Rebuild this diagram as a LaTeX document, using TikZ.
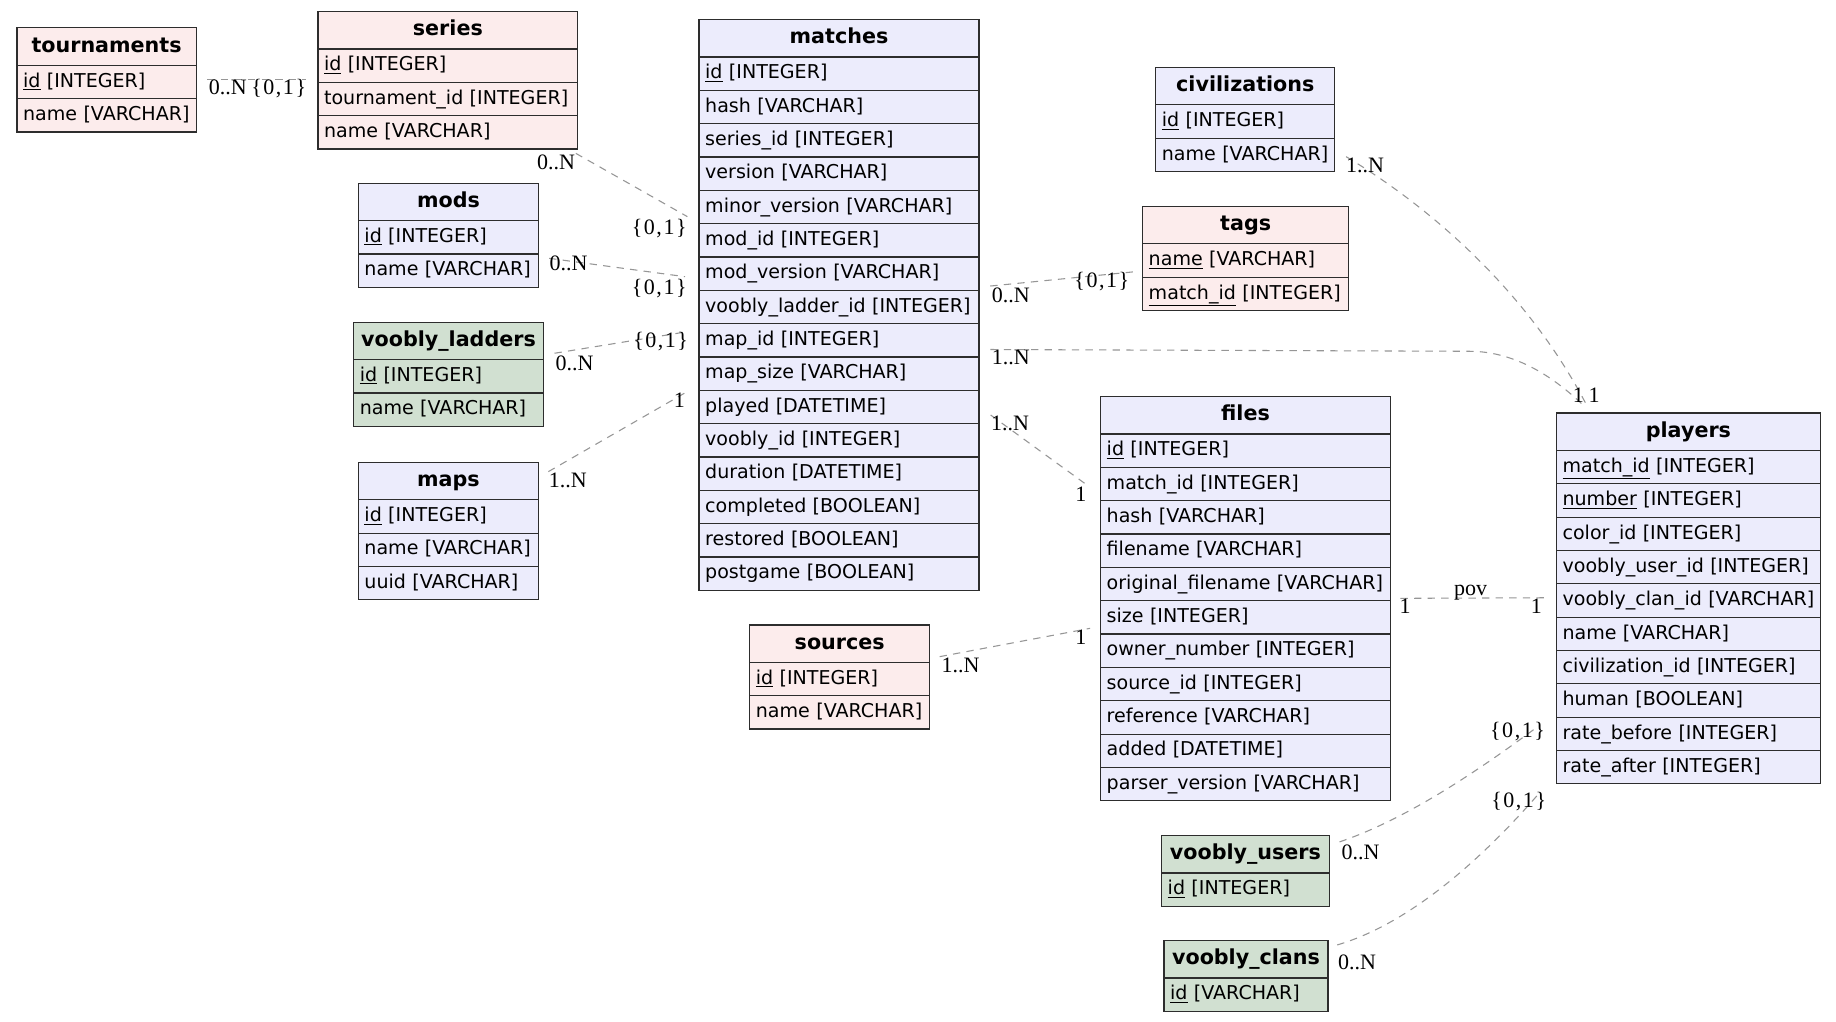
\documentclass[tikz,border=0pt]{standalone}
\usepackage{fontspec}
\setmainfont{DejaVu Sans}
\newfontfamily\lblfont{Liberation Serif}
\definecolor{pinkc}{RGB}{252,236,236}
\definecolor{lavc}{RGB}{236,236,252}
\definecolor{greenc}{RGB}{209,224,209}
\definecolor{bordc}{RGB}{45,45,45}
\definecolor{edgec}{RGB}{150,150,150}
\newcommand\ux{0.8782pt}
\newlength\tabw
\tikzset{
  hdr/.style={draw=bordc, line width=0.9pt, rectangle, minimum height=32*\ux, inner sep=0pt,
    font=\fontsize{15.5}{18}\selectfont\bfseries, text height=11.4pt, text depth=3.2pt},
  cell/.style={draw=bordc, line width=0.9pt, rectangle, minimum height=28.47*\ux, inner xsep=4.6pt, inner ysep=0pt,
    align=left, font=\fontsize{14.3}{17}\selectfont, text height=10.9pt, text depth=3.1pt},
  rel/.style={draw=edgec, line width=0.8pt, dash pattern=on 5.5pt off 4.7pt},
  lbl/.style={font=\lblfont\fontsize{16.5}{18}\selectfont, inner sep=0pt, text height=11.1pt, text depth=0pt, text=black},
  lblb/.style={lbl, font=\lblfont\fontsize{16.5}{18}\selectfont\addfontfeature{LetterSpace=7}},
}
\newcommand\ertable[7]{%
  \pgfmathsetlength\tabw{(#4)*\ux}%
  \edef\tabwv{\the\tabw}%
  \pgfmathsetlength\tabw{(#4)*\ux-9.2pt}%
  \edef\tabtv{\the\tabw}%
  \node[hdr, fill=#5, minimum width=\tabwv, anchor=north west] (#1) at (#2,#3) {#6};
  \foreach \rowtxt [count=\ri] in {#7} {
    \node[cell, fill=#5, text width=\tabtv, anchor=north west] (#1-\ri) at (#2,{#3+32+(\ri-1)*28.47}) {\mbox{\rowtxt}};
  }%
}
\begin{document}
\begin{tikzpicture}[x=\ux, y=-\ux]
\useasboundingbox[fill=white] (0,0) rectangle (1568,872);

% ---------- tables ----------
\ertable{tournaments}{14}{23.3}{153}{pinkc}{tournaments}{{\underline{id} [INTEGER]},{name [VARCHAR]}}
\ertable{series}{271}{9.4}{222}{pinkc}{series}{{\underline{id} [INTEGER]},{tournament\_id [INTEGER]},{name [VARCHAR]}}
\ertable{mods}{305.5}{156}{154}{lavc}{mods}{{\underline{id} [INTEGER]},{name [VARCHAR]}}
\ertable{vladders}{301.5}{274.7}{162}{greenc}{voobly\_ladders}{{\underline{id} [INTEGER]},{name [VARCHAR]}}
\ertable{maps}{305.5}{394.3}{154}{lavc}{maps}{{\underline{id} [INTEGER]},{name [VARCHAR]},{uuid [VARCHAR]}}
\ertable{matches}{596.5}{16.2}{239}{lavc}{matches}{{\underline{id} [INTEGER]},{hash [VARCHAR]},{series\_id [INTEGER]},{version [VARCHAR]},{minor\_version [VARCHAR]},{mod\_id [INTEGER]},{mod\_version [VARCHAR]},{voobly\_ladder\_id [INTEGER]},{map\_id [INTEGER]},{map\_size [VARCHAR]},{played [DATETIME]},{voobly\_id [INTEGER]},{duration [DATETIME]},{completed [BOOLEAN]},{restored [BOOLEAN]},{postgame [BOOLEAN]}}
\ertable{civs}{986.5}{57}{153}{lavc}{civilizations}{{\underline{id} [INTEGER]},{name [VARCHAR]}}
\ertable{tags}{975.3}{175.7}{176}{pinkc}{tags}{{\underline{name} [VARCHAR]},{\underline{match\_id} [INTEGER]}}
\ertable{files}{939.4}{338.2}{247.5}{lavc}{files}{{\underline{id} [INTEGER]},{match\_id [INTEGER]},{hash [VARCHAR]},{filename [VARCHAR]},{original\_filename [VARCHAR]},{size [INTEGER]},{owner\_number [INTEGER]},{source\_id [INTEGER]},{reference [VARCHAR]},{added [DATETIME]},{parser\_version [VARCHAR]}}
\ertable{sources}{639.8}{533.2}{153.6}{pinkc}{sources}{{\underline{id} [INTEGER]},{name [VARCHAR]}}
\ertable{players}{1328.7}{352.2}{225.5}{lavc}{players}{{\underline{match\_id} [INTEGER]},{\underline{number} [INTEGER]},{color\_id [INTEGER]},{voobly\_user\_id [INTEGER]},{voobly\_clan\_id [VARCHAR]},{name [VARCHAR]},{civilization\_id [INTEGER]},{human [BOOLEAN]},{rate\_before [INTEGER]},{rate\_after [INTEGER]}}
\ertable{vusers}{991.5}{713.1}{143.2}{greenc}{voobly\_users}{{\underline{id} [INTEGER]}}
\ertable{vclans}{993.6}{802.8}{140}{greenc}{voobly\_clans}{{\underline{id} [VARCHAR]}}

% ---------- connector end points ----------
\coordinate (tsA) at (177,67.5);     \coordinate (tsB) at (261,67.5);
\coordinate (smA) at (491.8,131);    \coordinate (smB) at (587,185);
\coordinate (mmA) at (469,220.6);    \coordinate (mmB) at (585,236.3);
\coordinate (lmA) at (473.6,301.7);  \coordinate (lmB) at (586.8,283.3);
\coordinate (pmA) at (468.3,402.8);  \coordinate (pmB) at (586.8,334.5);
\coordinate (mtA) at (845.7,244.3);  \coordinate (mtB) at (969.7,232);
\coordinate (mpA) at (845.7,298.5);  \coordinate (mpM) at (1255,300);  \coordinate (mpB) at (1352,346);
\coordinate (cpA) at (1149.6,133.8); \coordinate (cpB) at (1355,346);
\coordinate (mfA) at (846,354.4);    \coordinate (mfB) at (930.2,415.6);
\coordinate (sfA) at (802.5,560.8);  \coordinate (sfB) at (931,536.6);
\coordinate (fpA) at (1196,511);     \coordinate (fpB) at (1320.3,510.5);
\coordinate (upA) at (1144,719);     \coordinate (upB) at (1314,620);
\coordinate (kpA) at (1142,807);     \coordinate (kpB) at (1314,678);

% ---------- connectors ----------
\draw[rel] (tsA) -- (tsB);
\draw[rel] (smA) -- (smB);
\draw[rel] (mmA) -- (mmB);
\draw[rel] (lmA) -- (lmB);
\draw[rel] (pmA) -- (pmB);
\draw[rel] (mtA) -- (mtB);
\draw[rel] (mpA) -- (mpM) .. controls (1292,300) and (1325,320) .. (mpB);
\draw[rel] (cpA) .. controls (1210,170) and (1300,240) .. (cpB);
\draw[rel] (mfA) -- (mfB);
\draw[rel] (sfA) -- (sfB);
\draw[rel] (fpA) -- (fpB);
\draw[rel] (upA) .. controls (1200,700) and (1260,660) .. (upB);
\draw[rel] (kpA) .. controls (1200,790) and (1260,740) .. (kpB);

% ---------- cardinality labels ----------
\node[lbl] (tsLa) at (194.5,74.6) {0..N};
\node[lblb] (tsLb) at (238,74.6) {\{0,1\}};
\node[lbl] (smLa) at (475,138.6) {0..N};
\node[lblb] (smLb) at (563,193.6) {\{0,1\}};
\node[lbl] (mmLa) at (485.6,224.5) {0..N};
\node[lblb] (mmLb) at (563,245) {\{0,1\}};
\node[lbl] (lmLa) at (490.6,310) {0..N};
\node[lblb] (lmLb) at (564.2,290.4) {\{0,1\}};
\node[lbl] (pmLa) at (485,410) {1..N};
\node[lbl] (pmLb) at (580.3,341.6) {1};
\node[lbl] (mtLa) at (863.3,252) {0..N};
\node[lblb] (mtLb) at (941,239) {\{0,1\}};
\node[lbl] (mpLa) at (863.3,305.2) {1..N};
\node[lbl] (mpLb) at (1348,337.4) {1};
\node[lbl] (cpLa) at (1165.7,141) {1..N};
\node[lbl] (cpLb) at (1361.4,337.4) {1};
\node[lbl] (mfLa) at (862.6,361) {1..N};
\node[lbl] (mfLb) at (923,421.9) {1};
\node[lbl] (sfLa) at (820.4,568) {1..N};
\node[lbl] (sfLb) at (923,543.7) {1};
\node[lbl] (fpLa) at (1200,518) {1};
\node[lbl] (fpLb) at (1312,518) {1};
\node[lbl] (fpLc) at (1256,502.5) {pov};
\node[lbl] (upLa) at (1162,727.4) {0..N};
\node[lblb] (upLb) at (1296,623.5) {\{0,1\}};
\node[lbl] (kpLa) at (1159,821.3) {0..N};
\node[lblb] (kpLb) at (1297,683) {\{0,1\}};
\end{tikzpicture}
\end{document}
